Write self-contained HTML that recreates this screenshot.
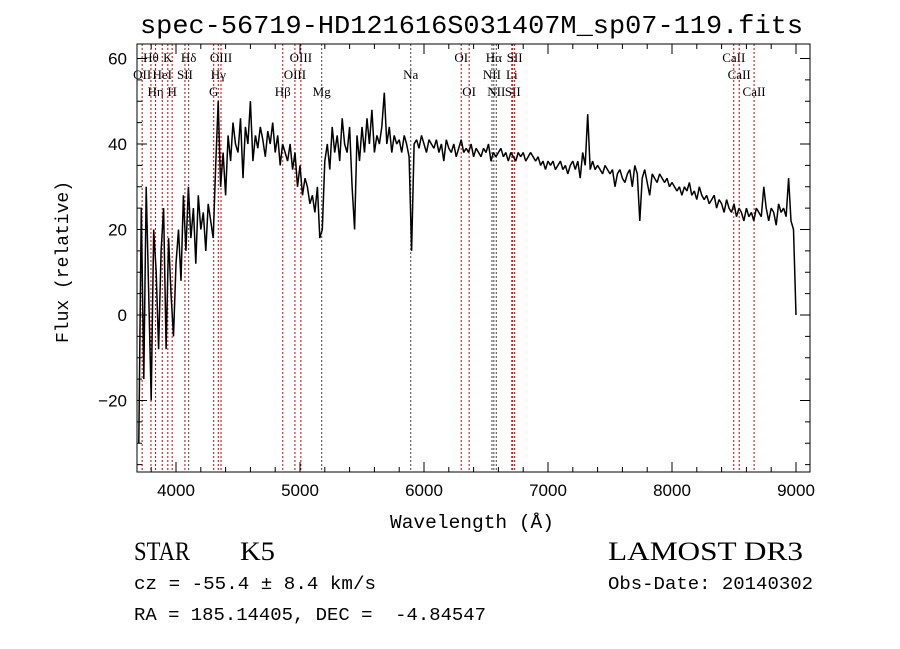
<!DOCTYPE html>
<html><head><meta charset="utf-8"><style>
body{margin:0;background:#fff;width:900px;height:649px;overflow:hidden}
svg{display:block}
.t{font-family:"Liberation Serif",serif;font-size:13px}
</style></head><body>
<svg id="c" width="900" height="649">
<text x="140" y="33" textLength="663" lengthAdjust="spacingAndGlyphs" font-family="Liberation Mono, monospace" font-size="26">spec-56719-HD121616S031407M_sp07-119.fits</text>
<text x="390" y="528" textLength="164" lengthAdjust="spacingAndGlyphs" font-family="Liberation Mono, monospace" font-size="19">Wavelength (Å)</text>
<text transform="translate(68,262) rotate(-90)" text-anchor="middle" font-family="Liberation Mono, monospace" font-size="18">Flux (relative)</text>
<text x="134" y="560" textLength="56" lengthAdjust="spacingAndGlyphs" font-family="Liberation Serif, serif" font-size="26">STAR</text>
<text x="240" y="560" textLength="35" lengthAdjust="spacingAndGlyphs" font-family="Liberation Serif, serif" font-size="26">K5</text>
<text x="608" y="560" textLength="195" lengthAdjust="spacingAndGlyphs" font-family="Liberation Serif, serif" font-size="26">LAMOST DR3</text>
<text x="134" y="589" textLength="242" lengthAdjust="spacingAndGlyphs" font-family="Liberation Mono, monospace" font-size="18">cz = -55.4 ± 8.4 km/s</text>
<text x="608" y="589" textLength="205" lengthAdjust="spacingAndGlyphs" font-family="Liberation Mono, monospace" font-size="18">Obs-Date: 20140302</text>
<text x="134" y="620" textLength="352" lengthAdjust="spacingAndGlyphs" xml:space="preserve" style="white-space:pre" font-family="Liberation Mono, monospace" font-size="18">RA = 185.14405, DEC =  -4.84547</text>
</svg>
<script>
const wlStart=3700, wlStep=20;
const flux=[-30,25,-15,30,5,-20,20,10,-8,15,
25,-8,18,5,-5,12,20,8,28,15,
30,18,25,12,28,20,24,15,26,22,
18,35,50,30,38,28,42,36,45,40,
38,46,32,44,40,50,36,42,39,44,
41,37,43,40,45,38,42,35,40,38,
36,40,34,38,30,35,28,32,30,26,
28,24,30,18,20,36,40,34,44,38,
42,36,46,40,38,44,30,20,42,36,
44,38,46,40,48,38,42,40,44,52,
40,44,38,42,40,41,38,42,40,37,
15,40,41,39,42,40,38,41,40,39,
41,38,40,36,41,39,38,40,37,39,
41,38,39,38,40,37,39,38,37,39,
38,40,36,38,37,38,39,37,38,36,
38,37,36,38,37,38,36,37,38,37,
36,37,35,36,34,36,35,36,34,35,
36,34,35,33,35,36,34,36,32,38,
35,47,34,36,34,35,34,33,35,34,
33,34,30,33,34,32,31,33,34,30,
35,33,22,32,34,31,28,33,32,31,
33,32,31,32,30,31,30,29,30,28,
30,29,31,28,29,27,30,28,27,28,
26,27,28,25,27,26,24,27,25,24,
26,23,25,24,22,25,23,24,22,25,
24,23,30,25,22,25,24,21,26,24,
25,23,32,22,20,0];
const xTicks=[4000,5000,6000,7000,8000,9000];
const yTicks=[-20,0,20,40,60];
const lineNames=["OII","Hθ","Hη","HeI","K","H","SII","Hδ","G","Hγ","OIII","Hβ","OIII","OIII","Mg","Na","OI","OI","NII","Hα","NII","Li","SII","SII","CaII","CaII","CaII"];
const lineWaves=[3727,3798,3835,3889,3934,3969,4072,4102,4304,4341,4363,4861,4959,5007,5175,5893,6300,6364,6548,6563,6583,6708,6716,6731,8498,8542,8662];
const lineRows=[2,1,3,2,1,3,2,1,3,2,1,3,2,1,3,2,1,3,2,1,3,2,3,1,1,2,3];
const lineDark=[0,0,0,0,0,0,0,1,0,0,0,0,0,0,1,1,0,0,1,1,1,0,0,0,0,0,0];
const X0=137,X1=810,Y0=44,Y1=472;
const sx=w=>176+(w-4000)*0.124;
const sy=f=>315-f*4.275;
const svg=document.getElementById('c');
const NS='http://www.w3.org/2000/svg';
function mk(t,a){const e=document.createElementNS(NS,t);for(const k in a)e.setAttribute(k,a[k]);svg.appendChild(e);return e;}
lineWaves.forEach((w,i)=>{
 const x=sx(w);
 const l=mk('line',{x1:x,x2:x,y1:Y0,y2:Y1,stroke:lineDark[i]?'#444':'#c00','stroke-width':1,'stroke-dasharray':'2,2'});
 
 
 const t=mk('text',{x:x,y:[0,62,79,96][lineRows[i]],'text-anchor':'middle','class':'t'});
 t.textContent=lineNames[i];
 
 
});
let d='';
flux.forEach((f,i)=>{const x=sx(wlStart+i*wlStep);d+=(i?'L':'M')+x.toFixed(1)+','+sy(f).toFixed(1);});
const p=mk('path',{d:d,fill:'none',stroke:'#000','stroke-width':1.5,'stroke-linejoin':'bevel'});


const fr=mk('rect',{x:X0,y:Y0,width:X1-X0,height:Y1-Y0,fill:'none',stroke:'#000','stroke-width':1});


for(let w=3800;w<=9100;w+=200){const x=sx(w);const maj=w%1000===0;const L=maj?10:5;
 mk('line',{x1:x,x2:x,y1:Y1,y2:Y1-L,stroke:'#000'});mk('line',{x1:x,x2:x,y1:Y0,y2:Y0+L,stroke:'#000'});}
xTicks.forEach(w=>{const t=mk('text',{x:sx(w),y:Y1+24,'text-anchor':'middle','font-family':'Liberation Sans, sans-serif','font-size':17});t.textContent=w;
 
 });
for(let f=-35;f<=60;f+=5){const y=sy(f);const maj=f%20===0;const L=maj?10:5;
 mk('line',{x1:X0,x2:X0+L,y1:y,y2:y,stroke:'#000'});mk('line',{x1:X1,x2:X1-L,y1:y,y2:y,stroke:'#000'});}
yTicks.forEach(f=>{const t=mk('text',{x:127,y:sy(f)+6,'text-anchor':'end','font-family':'Liberation Sans, sans-serif','font-size':17});t.textContent=f<0?'\u2212'+(-f):f;
 
 });
</script>
</body></html>
